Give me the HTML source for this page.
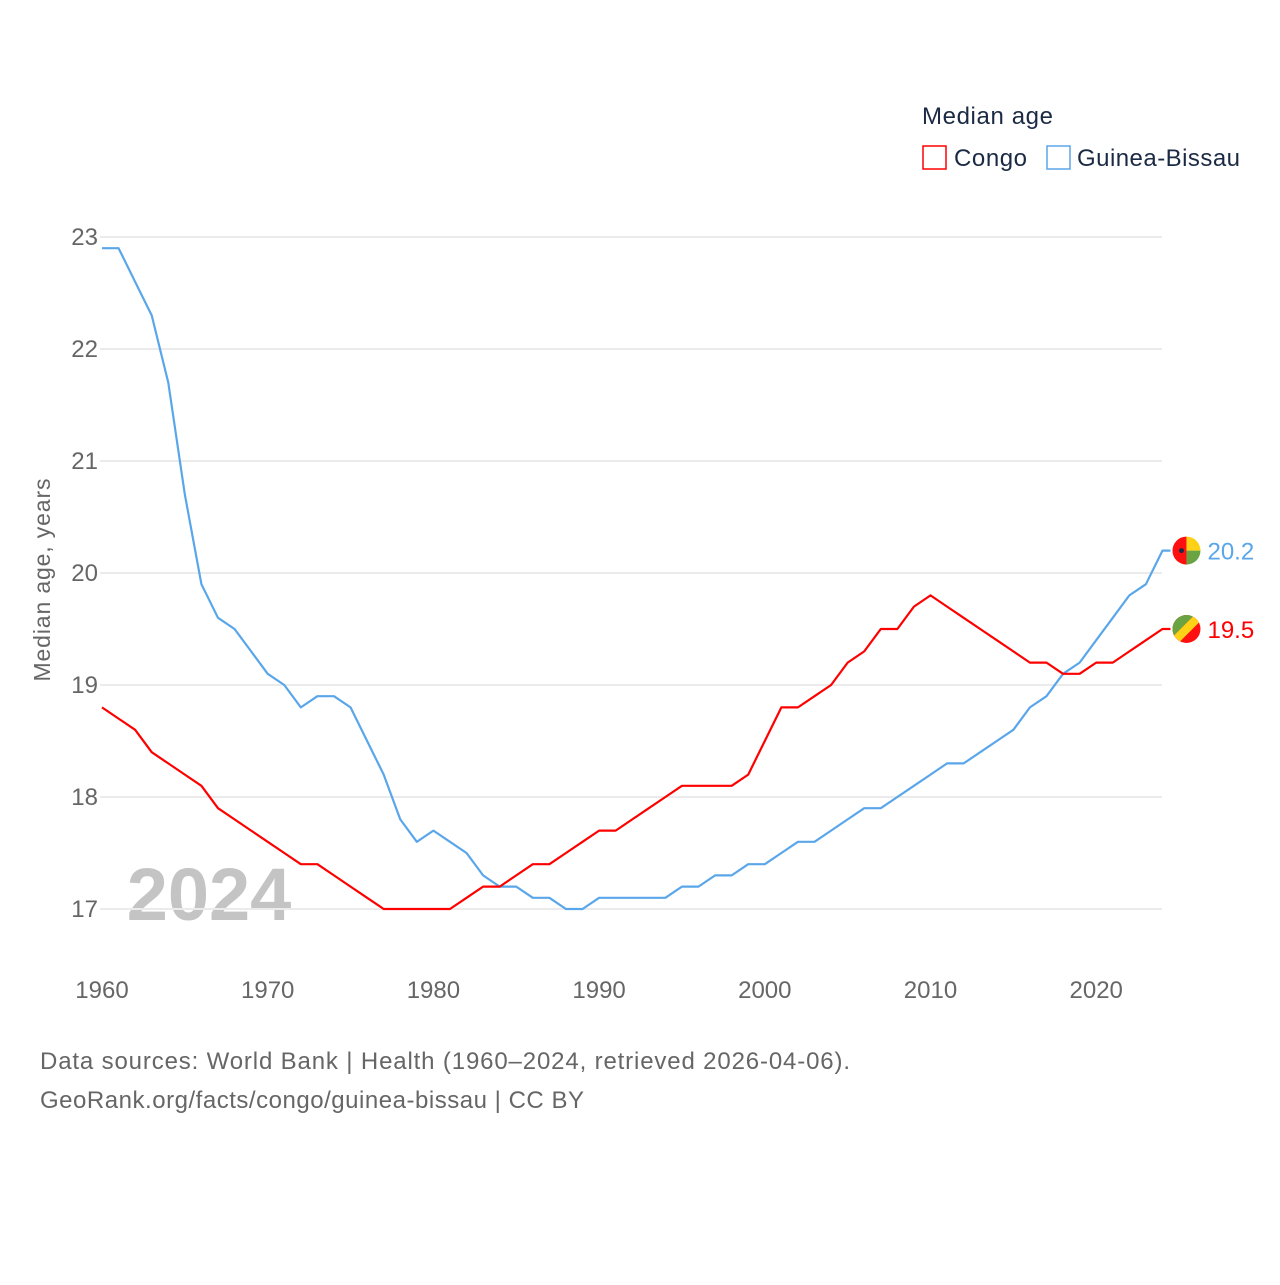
<!DOCTYPE html>
<html><head><meta charset="utf-8"><style>
body{margin:0;background:#fff;font-family:"Liberation Sans",sans-serif;}
svg text{font-family:"Liberation Sans",sans-serif;}
</style></head><body>
<svg id="chart" width="1280" height="1280">
<rect width="1280" height="1280" fill="#fff"/>
<text x="922" y="124" font-size="24" fill="#1b2a44" textLength="131">Median age</text>
<g><rect x="923" y="146" width="23" height="23" fill="none" stroke="#ff0000" stroke-width="1.5"/><text x="954" y="166" font-size="24" fill="#1b2a44" textLength="73">Congo</text></g>
<g><rect x="1047" y="146" width="23" height="23" fill="none" stroke="#5aa6ea" stroke-width="1.5"/><text x="1077" y="166" font-size="24" fill="#1b2a44" textLength="163">Guinea-Bissau</text></g>
<text x="209" y="920" font-size="74" font-weight="bold" fill="#c4c4c4" text-anchor="middle">2024</text>
<text transform="translate(50,580) rotate(-90)" font-size="23" fill="#666" text-anchor="middle" textLength="203">Median age, years</text>
<g id="grid"></g><g id="series"></g>
<text x="40" y="1069" font-size="24" fill="#666" textLength="810">Data sources: World Bank | Health (1960–2024, retrieved 2026-04-06).</text>
<text x="40" y="1108" font-size="24" fill="#666" textLength="544">GeoRank.org/facts/congo/guinea-bissau | CC BY</text>
</svg>
<script>
const years=[];for(let y=1960;y<=2024;y++)years.push(y);
const congo=[18.8,18.7,18.6,18.4,18.3,18.2,18.1,17.9,17.8,17.7,17.6,17.5,17.4,17.4,17.3,17.2,17.1,17.0,17.0,17.0,17.0,17.0,17.1,17.2,17.2,17.3,17.4,17.4,17.5,17.6,17.7,17.7,17.8,17.9,18.0,18.1,18.1,18.1,18.1,18.2,18.5,18.8,18.8,18.9,19.0,19.2,19.3,19.5,19.5,19.7,19.8,19.7,19.6,19.5,19.4,19.3,19.2,19.2,19.1,19.1,19.2,19.2,19.3,19.4,19.5];
const guinea=[22.9,22.9,22.6,22.3,21.7,20.7,19.9,19.6,19.5,19.3,19.1,19.0,18.8,18.9,18.9,18.8,18.5,18.2,17.8,17.6,17.7,17.6,17.5,17.3,17.2,17.2,17.1,17.1,17.0,17.0,17.1,17.1,17.1,17.1,17.1,17.2,17.2,17.3,17.3,17.4,17.4,17.5,17.6,17.6,17.7,17.8,17.9,17.9,18.0,18.1,18.2,18.3,18.3,18.4,18.5,18.6,18.8,18.9,19.1,19.2,19.4,19.6,19.8,19.9,20.2];
const yTicks=[17,18,19,20,21,22,23];
const xTicks=[1960,1970,1980,1990,2000,2010,2020];
const X=y=>102+(y-1960)*16.57;
const Y=v=>909-(v-17)*112;
const NS="http://www.w3.org/2000/svg";
const grid=document.getElementById('grid'),ser=document.getElementById('series');
function mk(tag,at,parent,txt){const e=document.createElementNS(NS,tag);for(const k in at)e.setAttribute(k,at[k]);if(txt!==undefined)e.textContent=txt;parent.appendChild(e);return e;}
yTicks.forEach(t=>{
 const l=mk('line',{x1:100,x2:1162,y1:Y(t),y2:Y(t),stroke:'#ebebeb','stroke-width':2},grid);
 
 
 const tx=mk('text',{x:98,y:Y(t)+8,'font-size':24,fill:'#666','text-anchor':'end'},grid,t);
 
 
});
xTicks.forEach(t=>{
 const tx=mk('text',{x:X(t),y:998,'font-size':24,fill:'#666','text-anchor':'middle'},grid,t);
 
 
});
function line(vals,color,name){
 const pts=vals.map((v,i)=>X(years[i])+','+Y(v));
 pts.push((X(2024)+8)+','+Y(vals[vals.length-1]));
 const p=mk('polyline',{points:pts.join(' '),fill:'none',stroke:color,'stroke-width':2.2,'stroke-linejoin':'round'},ser);
 
 
}
line(guinea,'#5aa6ea','guinea-bissau-line');
line(congo,'#ff0000','congo-line');
const gl=guinea[guinea.length-1],cl=congo[congo.length-1];
const ex=X(2024)+24;
const g1=mk('g',{},ser);


mk('path',{d:`M${ex},${Y(gl)-14} A14 14 0 0 0 ${ex},${Y(gl)+14} Z`,fill:'#ff1010'},g1);
mk('path',{d:`M${ex},${Y(gl)-14} A14 14 0 0 1 ${ex+14},${Y(gl)} L${ex},${Y(gl)} Z`,fill:'#fcd116'},g1);
mk('path',{d:`M${ex},${Y(gl)} L${ex+14},${Y(gl)} A14 14 0 0 1 ${ex},${Y(gl)+14} Z`,fill:'#6aa442'},g1);
mk('circle',{cx:ex-5,cy:Y(gl),r:2.5,fill:'#1b2a44'},g1);
const t1=mk('text',{x:ex+21,y:Y(gl)+9,'font-size':24,fill:'#5aa6ea'},ser,gl.toFixed(1));


const g2=mk('g',{},ser);


const cy=Y(cl);
mk('clipPath',{id:'cc'},g2);
mk('circle',{cx:ex,cy:cy,r:14},g2.lastChild);
const gg=mk('g',{'clip-path':'url(#cc)'},g2);
mk('rect',{x:ex-14,y:cy-14,width:28,height:28,fill:'#ff1010'},gg);
mk('polygon',{points:`${ex-14},${cy-14} ${ex+8},${cy-14} ${ex-14},${cy+8}`,fill:'#6aa442'},gg);
mk('polygon',{points:`${ex+8},${cy-14} ${ex+14},${cy-14} ${ex+14},${cy-8} ${ex-8},${cy+14} ${ex-14},${cy+14} ${ex-14},${cy+8}`,fill:'#fcd116'},gg);
const t2=mk('text',{x:ex+21,y:cy+9,'font-size':24,fill:'#ff0000'},ser,cl.toFixed(1));


</script>
</body></html>
